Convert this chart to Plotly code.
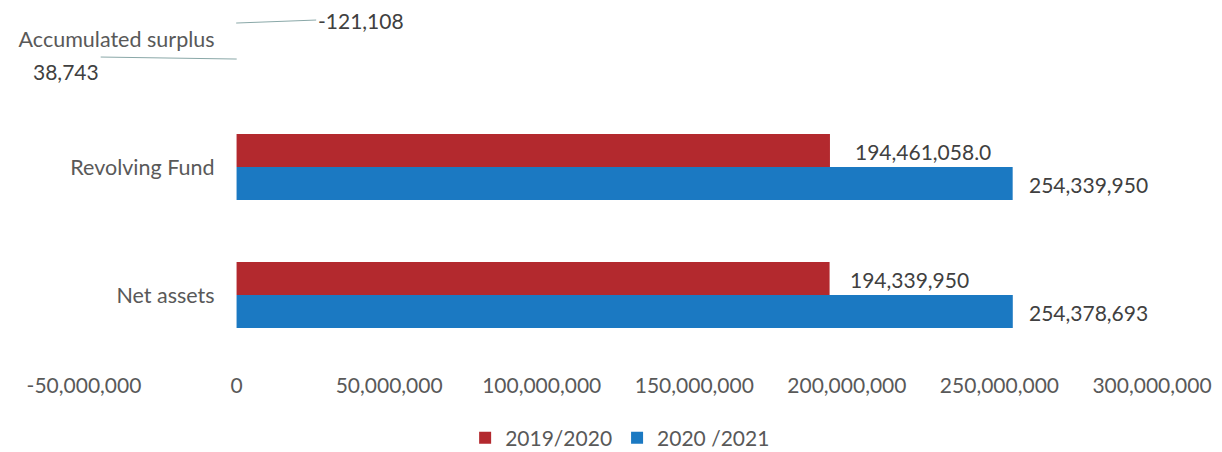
import plotly.graph_objects as go

categories = ["Net assets", "Revolving Fund", "Accumulated surplus"]
values_2019 = [194339950, 194461058.0, -121108]
values_2020 = [254378693, 254339950, 38743]
labels_2019 = ["194,339,950", "194,461,058.0", "-121,108"]
labels_2020 = ["254,378,693", "254,339,950", "38,743"]
series_names = ["2019/2020", "2020 /2021"]
tick_values = [-50000000, 0, 50000000, 100000000, 150000000, 200000000, 250000000, 300000000]

RED = "#b3292e"
BLUE = "#1b79c2"
FONT = "Lato"
TICK_COLOR = "#595959"
LABEL_COLOR = "#404040"
LEADER = "#8aa8a8"

fig = go.Figure()
fig.add_trace(go.Bar(y=categories, x=values_2020, orientation="h", name=series_names[1],
                     marker=dict(color=BLUE, line=dict(width=0), opacity=[1, 1, 0]),
                     legendrank=2))
fig.add_trace(go.Bar(y=categories, x=values_2019, orientation="h", name=series_names[0],
                     marker=dict(color=RED, line=dict(width=0), opacity=[1, 1, 0]),
                     legendrank=1))

annotations = []
red_shift = {"Net assets": 18, "Revolving Fund": 23}
for cat, v, lab in zip(categories[:2], values_2019[:2], labels_2019[:2]):
    annotations.append(dict(x=v, y=cat, text=lab, showarrow=False, xanchor="left",
                            yanchor="middle", xshift=red_shift[cat], yshift=16,
                            font=dict(family=FONT, size=21, color=LABEL_COLOR)))
for cat, v, lab in zip(categories[:2], values_2020[:2], labels_2020[:2]):
    annotations.append(dict(x=v, y=cat, text=lab, showarrow=False, xanchor="left",
                            yanchor="middle", xshift=14, yshift=-17,
                            font=dict(family=FONT, size=21, color=LABEL_COLOR)))
# leader-line labels for accumulated surplus
annotations.append(dict(x=values_2019[2], y=categories[2], text=labels_2019[2], showarrow=True,
                        arrowhead=0, arrowwidth=1, arrowcolor=LEADER, ax=80, ay=-3,
                        xanchor="left", yanchor="middle", yshift=16, standoff=0,
                        font=dict(family=FONT, size=21, color=LABEL_COLOR)))
annotations.append(dict(x=values_2020[2], y=categories[2], text=labels_2020[2], showarrow=True,
                        arrowhead=0, arrowwidth=1, arrowcolor=LEADER, ax=-136, ay=-2,
                        xanchor="right", yanchor="top", yshift=-20, standoff=0,
                        font=dict(family=FONT, size=21, color=LABEL_COLOR)))

fig.update_layout(
    width=1222, height=452,
    margin=dict(l=84, r=70, t=0, b=93, autoexpand=False),
    paper_bgcolor="white", plot_bgcolor="white",
    barmode="group", bargap=0.484, bargroupgap=0,
    font=dict(family=FONT, size=21, color=TICK_COLOR),
    xaxis=dict(range=[-50000000, 300000000], tickvals=tick_values,
               ticktext=[f"{v:,}" for v in tick_values],
               showgrid=False, zeroline=False, showline=False,
               ticks="", ticklabelstandoff=12, automargin=False,
               tickfont=dict(family=FONT, size=21, color=TICK_COLOR)),
    yaxis=dict(type="category", categoryorder="array", categoryarray=categories,
               range=[-0.5, 2.305], anchor="free", position=1/7,
               showgrid=False, zeroline=False, showline=False, ticks="",
               ticklabelstandoff=22, automargin=False,
               tickfont=dict(family=FONT, size=21.5, color=TICK_COLOR)),
    legend=dict(orientation="h", x=0.502, xanchor="center",
                yref="container", y=1 - 438 / 452, yanchor="middle",
                font=dict(family=FONT, size=21, color=TICK_COLOR)),
    annotations=annotations,
)

fig.write_html("out.html", config={"displayModeBar": False},
               post_script="document.body.style.margin='0px';")
